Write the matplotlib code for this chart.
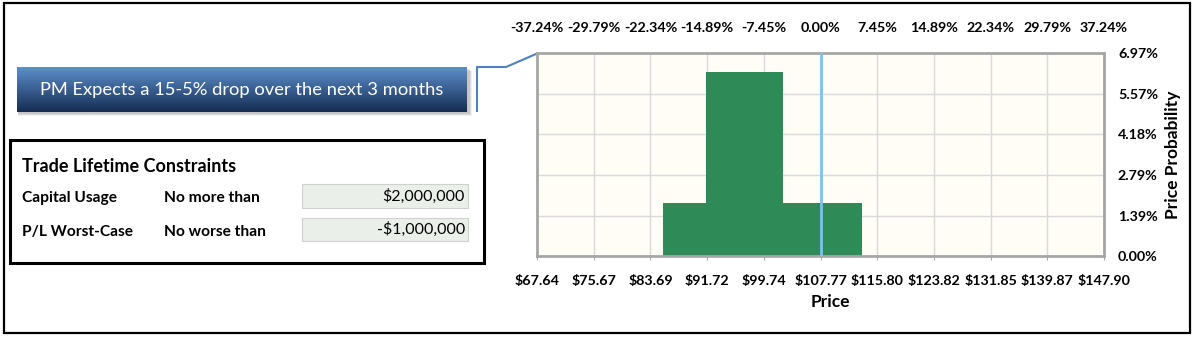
#!/usr/bin/env python3

import numpy as np
from matplotlib import pyplot as plt
from matplotlib.patches import Rectangle

# * Data

price_ticks = [67.64, 75.67, 83.69, 91.72, 99.74, 107.77, 115.80, 123.82, 131.85, 139.87, 147.90]
price_labels = ["$67.64", "$75.67", "$83.69", "$91.72", "$99.74", "$107.77",
                "$115.80", "$123.82", "$131.85", "$139.87", "$147.90"]
pct_labels = ["-37.24%", "-29.79%", "-22.34%", "-14.89%", "-7.45%", "0.00%",
              "7.45%", "14.89%", "22.34%", "29.79%", "37.24%"]
prob_ticks = [0.0, 1.39, 2.79, 4.18, 5.57, 6.97]
prob_labels = ["0.00%", "1.39%", "2.79%", "4.18%", "5.57%", "6.97%"]

bin_edges = [85.5, 91.6, 102.4, 113.6]   # price bins of the expected drop
bin_probs = [1.83, 6.33, 1.83]           # probability per bin [%]
spot_price = 107.77

banner_text = "PM Expects a 15-5% drop over the next 3 months"
box_title = "Trade Lifetime Constraints"
constraint_names = ["Capital Usage", "P/L Worst-Case"]
constraint_rules = ["No more than", "No worse than"]
constraint_values = ["$2,000,000", "-$1,000,000"]

# * Figure

W, H = 1194, 338
plt.rcParams['font.family'] = ['Lato', 'DejaVu Sans']
fig = plt.figure(figsize=(W / 100, H / 100), dpi=100)
fig.patch.set_facecolor('white')

# Overlay axes in pixel coordinates for the left-hand panel and frames.
ov = fig.add_axes([0, 0, 1, 1])
ov.set_xlim(0, W)
ov.set_ylim(H, 0)
ov.axis('off')

# Outer frame.
ov.add_patch(Rectangle((4, 3), 1186, 330, fill=False, ec='black', lw=1.6))

# Banner shadow + gradient.
bx0, by0, bx1, by1 = 17, 67, 467, 112
for k, a in enumerate([0.06, 0.08, 0.10]):
    off = 4 - k
    ov.add_patch(Rectangle((bx0 + 1, by0 + off), bx1 - bx0 + off, by1 - by0,
                           fc='black', ec='none', alpha=a))
top = np.array([92, 143, 204]) / 255
bot = np.array([22, 45, 82]) / 255
t = np.linspace(0, 1, 64)[:, None]
grad = (top[None, :] * (1 - t) + bot[None, :] * t)[:, None, :]
ov.imshow(grad, extent=(bx0, bx1, by1, by0), aspect='auto', zorder=2)
ov.text(242, (by0 + by1) / 2 + 1, banner_text, color='white',
        fontsize=13.2, ha='center', va='center', zorder=3)

# Connector from banner to chart.
ov.plot([477, 477, 506, 536], [111, 67, 67, 54], color='#4F81BD', lw=1.5, zorder=3)

# Constraints box.
ov.add_patch(Rectangle((10, 140), 474, 123, fill=False, ec='black', lw=2.2))
ov.text(22, 167, box_title, fontsize=13, fontweight='bold', ha='left', va='center')
rows_y = [198, 232]
for yy, name, rule, val, (vt, vb) in zip(rows_y, constraint_names, constraint_rules,
                                         constraint_values, [(184, 208), (218, 241)]):
    ov.text(22, yy, name, fontsize=11.2, fontweight='bold', ha='left', va='center')
    ov.text(164, yy, rule, fontsize=11.2, fontweight='bold', ha='left', va='center')
    ov.add_patch(Rectangle((302, vt), 166, vb - vt, fc='#EBEFEA', ec='#D0D0D0', lw=0.8))
    ov.text(465, (vt + vb) / 2, val, fontsize=11.5, ha='right', va='center')

# * Histogram

px0, py0, px1, py1 = 537, 53, 1104, 256
ax = fig.add_axes([px0 / W, 1 - py1 / H, (px1 - px0) / W, (py1 - py0) / H])
ax.set_facecolor('#FFFDF6')
widths = np.diff(bin_edges)
ax.bar(bin_edges[:-1], bin_probs, width=widths, align='edge', color='#2E8B57',
       edgecolor='none', zorder=2)
ax.axvline(spot_price, color='#7EC3E6', lw=2, zorder=3)

ax.set_xlim(price_ticks[0], price_ticks[-1])
ax.set_ylim(prob_ticks[0], prob_ticks[-1])
ax.set_xticks(price_ticks)
ax.set_xticklabels(price_labels)
ax.set_yticks(prob_ticks)
ax.set_yticklabels(prob_labels)
ax.yaxis.tick_right()
ax.yaxis.set_label_position('right')
ax.grid(True, color='#D9D9D9', lw=1, zorder=0)
ax.set_axisbelow(True)
for sp in ax.spines.values():
    sp.set_color('#A6A6A6')
    sp.set_linewidth(2)
ax.tick_params(axis='x', length=3, color='#A6A6A6', pad=11, labelsize=10.3)
ax.tick_params(axis='y', length=0, pad=10, labelsize=10.3)
for lab in ax.get_xticklabels() + ax.get_yticklabels():
    lab.set_fontweight('bold')
ax.set_xlabel("Price", fontsize=12.5, fontweight='bold', labelpad=5)
ax.xaxis.label.set_x(0.517)
ax.set_ylabel("Price Probability", fontsize=12.5, fontweight='bold', labelpad=5)

# Top axis: percent change from spot.
top_ax = ax.twiny()
top_ax.set_xlim(ax.get_xlim())
top_ax.set_xticks(price_ticks)
top_ax.set_xticklabels(pct_labels)
top_ax.tick_params(axis='x', length=0, pad=14, labelsize=10.3)
for lab in top_ax.get_xticklabels():
    lab.set_fontweight('bold')
for sp in top_ax.spines.values():
    sp.set_visible(False)

fig.savefig("out.png", dpi=100)
